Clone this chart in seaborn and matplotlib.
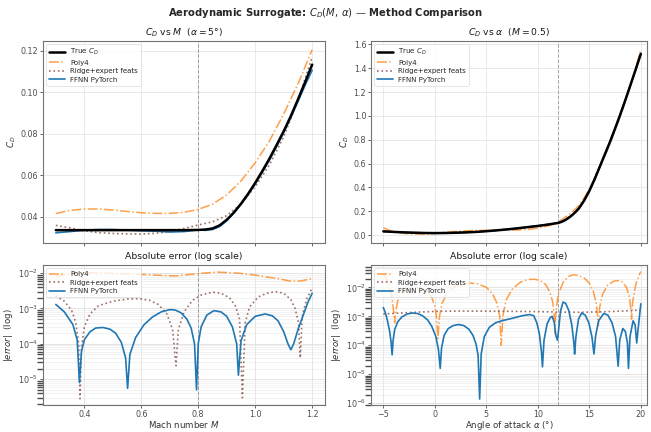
import numpy as np
import pandas as pd
import matplotlib
matplotlib.use("Agg")
import matplotlib.pyplot as plt
import seaborn as sns

# ---------------- data: C_D vs Mach (alpha = 5 deg) ----------------
mach = [0.30, 0.35, 0.40, 0.45, 0.50, 0.55, 0.60, 0.65, 0.70, 0.75, 0.80, 0.825,
        0.85, 0.875, 0.90, 0.925, 0.95, 0.975, 1.00, 1.025, 1.05, 1.075, 1.10,
        1.125, 1.15, 1.175, 1.20]
cd_true_m = [0.0335, 0.0335, 0.0335, 0.0335, 0.0335, 0.0335, 0.0335, 0.0335, 0.0335,
             0.0335, 0.0336, 0.0338, 0.0343, 0.0358, 0.0385, 0.0420, 0.0462, 0.0510,
             0.0563, 0.0620, 0.0680, 0.0745, 0.0812, 0.0885, 0.0965, 0.1048, 0.1133]
cd_ffnn_m = [0.0322, 0.0328, 0.0335, 0.0338, 0.0338, 0.0335, 0.0332, 0.0330, 0.0326,
             0.0328, 0.0336, 0.0334, 0.0338, 0.0352, 0.0380, 0.0417, 0.0460, 0.0506,
             0.0557, 0.0614, 0.0673, 0.0738, 0.0806, 0.0878, 0.0955, 0.1033, 0.1106]

mach_poly = [0.30, 0.35, 0.40, 0.45, 0.50, 0.55, 0.60, 0.65, 0.70, 0.75, 0.80, 0.85,
             0.90, 0.95, 1.00, 1.05, 1.10, 1.15, 1.20]
cd_poly_m = [0.0415, 0.0430, 0.0437, 0.0437, 0.0432, 0.0425, 0.0419, 0.0416, 0.0416,
             0.0421, 0.0435, 0.0460, 0.0505, 0.0572, 0.0660, 0.0765, 0.0895, 0.1040, 0.1205]
mach_ridge = [0.30, 0.35, 0.385, 0.45, 0.50, 0.55, 0.60, 0.65, 0.70, 0.75, 0.80, 0.85,
              0.90, 0.95, 1.00, 1.05, 1.10, 1.15, 1.20]
cd_ridge_m = [0.0358, 0.0346, 0.0335, 0.0323, 0.0319, 0.0317, 0.0316, 0.0320, 0.0328,
              0.0343, 0.0360, 0.0375, 0.0405, 0.0460, 0.0545, 0.0650, 0.0785, 0.0960, 0.1170]

# absolute errors vs Mach
m_err_poly = [0.30, 0.35, 0.40, 0.45, 0.50, 0.55, 0.60, 0.65, 0.72, 0.80, 0.865, 0.94,
              1.00, 1.03, 1.08, 1.12, 1.16, 1.20]
err_poly_m = [8.0e-3, 9.5e-3, 1.02e-2, 1.02e-2, 9.8e-3, 9.6e-3, 9.2e-3, 8.8e-3, 8.3e-3,
              9.7e-3, 1.07e-2, 1.0e-2, 8.8e-3, 8.0e-3, 7.0e-3, 6.0e-3, 6.0e-3, 7.0e-3]
m_err_ridge = [0.30, 0.33, 0.355, 0.37, 0.38, 0.385, 0.39, 0.40, 0.42, 0.45, 0.50, 0.55,
               0.59, 0.63, 0.66, 0.69, 0.71, 0.722, 0.73, 0.75, 0.78, 0.81, 0.85, 0.88,
               0.91, 0.93, 0.945, 0.955, 0.965, 0.98, 1.01, 1.04, 1.07, 1.10, 1.125,
               1.14, 1.152, 1.158, 1.165, 1.18, 1.20]
err_ridge_m = [2.3e-3, 1.6e-3, 9e-4, 4e-4, 1e-4, 2.8e-6, 8e-5, 3e-4, 7e-4, 1.2e-3, 1.6e-3,
               1.85e-3, 1.9e-3, 1.7e-3, 1.3e-3, 7e-4, 2.5e-4, 2.4e-5, 2.5e-4, 8e-4, 1.7e-3,
               2.4e-3, 2.9e-3, 2.7e-3, 2.0e-3, 1.2e-3, 5e-4, 3e-6, 4e-4, 1.1e-3, 2.1e-3,
               2.7e-3, 3.0e-3, 2.7e-3, 1.8e-3, 1.0e-3, 4e-4, 4e-5, 6e-4, 1.8e-3, 3.8e-3]
m_err_ffnn = [0.30, 0.33, 0.36, 0.375, 0.383, 0.39, 0.40, 0.42, 0.44, 0.465, 0.49, 0.51,
              0.53, 0.545, 0.552, 0.56, 0.58, 0.61, 0.64, 0.67, 0.70, 0.72, 0.74, 0.76,
              0.775, 0.787, 0.794, 0.80, 0.81, 0.83, 0.855, 0.88, 0.90, 0.92, 0.935,
              0.941, 0.95, 0.97, 1.00, 1.035, 1.06, 1.08, 1.10, 1.115, 1.125, 1.135,
              1.15, 1.17, 1.185, 1.20]
err_ffnn_m = [1.3e-3, 8e-4, 3.5e-4, 1.3e-4, 8e-6, 6e-5, 1.3e-4, 2.2e-4, 2.8e-4, 2.9e-4,
              2.6e-4, 2e-4, 1.1e-4, 4e-5, 5.5e-6, 5e-5, 1.5e-4, 3.5e-4, 5.8e-4, 8e-4,
              9.3e-4, 9e-4, 7.5e-4, 5e-4, 2.8e-4, 1e-4, 5e-6, 1e-4, 3e-4, 6.5e-4, 8.7e-4,
              8e-4, 6e-4, 3e-4, 1e-4, 1.3e-5, 1.2e-4, 3.5e-4, 6e-4, 7e-4, 6.2e-4, 4.5e-4,
              2.2e-4, 1e-4, 6.8e-5, 1e-4, 2.5e-4, 7e-4, 1.5e-3, 2.7e-3]

# ---------------- data: C_D vs alpha (M = 0.5) ----------------
alpha = [-5, -4, -3, -2, -1, 0, 1, 2, 3, 4, 5, 6, 7, 8, 9, 10, 11, 12, 12.25, 12.5,
         12.75, 13, 13.25, 13.5, 13.75, 14, 14.5, 15, 15.5, 16, 16.5, 17, 17.5, 18,
         18.5, 19, 19.5, 20]
cd_true_a = [0.031, 0.026, 0.022, 0.019, 0.017, 0.016, 0.017, 0.019, 0.022, 0.026,
             0.032, 0.039, 0.047, 0.056, 0.066, 0.076, 0.088, 0.102, 0.109, 0.118,
             0.130, 0.145, 0.161, 0.180, 0.201, 0.225, 0.290, 0.370, 0.465, 0.570,
             0.675, 0.780, 0.893, 1.010, 1.133, 1.260, 1.389, 1.520]
cd_ridge_a = [0.032, 0.027, 0.023, 0.020, 0.018, 0.017, 0.018, 0.020, 0.023, 0.027,
              0.033, 0.040, 0.048, 0.057, 0.067, 0.077, 0.089, 0.103, 0.110, 0.119,
              0.131, 0.146, 0.162, 0.181, 0.202, 0.226, 0.291, 0.371, 0.466, 0.571,
              0.676, 0.781, 0.894, 1.011, 1.134, 1.261, 1.390, 1.522]
cd_ffnn_a = [0.029, 0.026, 0.023, 0.020, 0.018, 0.016, 0.017, 0.019, 0.022, 0.026,
             0.032, 0.039, 0.048, 0.057, 0.067, 0.077, 0.088, 0.102, 0.111, 0.121,
             0.132, 0.146, 0.161, 0.180, 0.202, 0.226, 0.289, 0.371, 0.466, 0.571,
             0.676, 0.780, 0.893, 1.010, 1.133, 1.260, 1.389, 1.523]
alpha_poly = [-5, -4.5, -4, -3, -2, -1, 0, 0.3, 1, 2, 3, 3.5, 4, 5, 6, 6.45, 7, 8, 9,
              9.5, 10, 11, 11.65, 12, 12.5, 13, 13.5, 14, 14.5, 15, 15.5, 15.87, 16,
              16.5, 17, 17.5, 17.8, 18, 18.5, 19, 19.5, 20]
cd_poly_a = [0.061, 0.042, 0.027, 0.014, 0.009, 0.008, 0.0125, 0.016, 0.022, 0.030,
             0.035, 0.037, 0.038, 0.040, 0.0405, 0.043, 0.042, 0.042, 0.047, 0.052,
             0.058, 0.077, 0.093, 0.110, 0.140, 0.170, 0.207, 0.248, 0.313, 0.385,
             0.475, 0.550, 0.567, 0.662, 0.765, 0.878, 0.948, 0.995, 1.122, 1.259,
             1.400, 1.555]

# absolute errors vs alpha
a_err_poly = [-5.0, -4.7, -4.4, -4.15, -4.0, -3.9, -3.8, -3.6, -3.2, -2.6, -2.0, -1.4,
              -0.8, -0.3, 0.0, 0.15, 0.3, 0.45, 0.7, 1.2, 2.0, 2.8, 3.5, 4.2, 5.0, 5.6,
              6.0, 6.3, 6.45, 6.6, 6.9, 7.5, 8.3, 9.0, 9.6, 10.2, 10.8, 11.2, 11.45,
              11.6, 11.65, 11.75, 12.0, 12.5, 13.0, 13.4, 13.9, 14.5, 15.0, 15.4, 15.7,
              15.87, 16.0, 16.3, 16.8, 17.4, 17.8, 18.2, 18.6, 18.9, 19.05, 19.1, 19.2,
              19.5, 19.8, 20.0]
err_poly_a = [3.0e-2, 2.0e-2, 1.0e-2, 4e-3, 1.5e-3, 6e-4, 1.5e-3, 3.5e-3, 6.5e-3, 9e-3,
              1.0e-2, 9.5e-3, 7.5e-3, 4.5e-3, 2.2e-3, 1.0e-3, 1.7e-4, 1.0e-3, 2.8e-3,
              6.5e-3, 1.1e-2, 1.35e-2, 1.4e-2, 1.3e-2, 1.0e-2, 6e-3, 3e-3, 1e-3, 1e-4,
              1e-3, 3.5e-3, 8.5e-3, 1.5e-2, 1.85e-2, 1.9e-2, 1.75e-2, 1.2e-2, 6.5e-3,
              3e-3, 1e-3, 2.5e-4, 1.5e-3, 6e-3, 1.6e-2, 2.4e-2, 2.7e-2, 2.6e-2, 2.1e-2,
              1.4e-2, 7e-3, 2.5e-3, 4.7e-4, 2e-3, 6e-3, 1.2e-2, 1.65e-2, 1.7e-2, 1.55e-2,
              1.0e-2, 4.5e-3, 1.5e-3, 8e-4, 3e-3, 1.2e-2, 2.5e-2, 3.5e-2]
a_err_ridge = [-5, -2.5, 0, 2.5, 5, 7.5, 10, 12, 14, 16, 18, 20]
err_ridge_a = [1.2e-3, 1.35e-3, 1.48e-3, 1.52e-3, 1.5e-3, 1.48e-3, 1.45e-3, 1.4e-3,
               1.38e-3, 1.42e-3, 1.5e-3, 1.65e-3]
a_err_ffnn = [-5.0, -4.8, -4.6, -4.4, -4.25, -4.15, -4.05, -3.9, -3.6, -3.2, -2.7, -2.2,
              -1.7, -1.2, -0.7, -0.3, 0.1, 0.35, 0.52, 0.65, 0.9, 1.3, 1.8, 2.3, 2.8,
              3.3, 3.7, 4.0, 4.2, 4.35, 4.5, 4.8, 5.3, 5.9, 6.5, 7.5, 8.5, 9.2, 9.6,
              9.9, 10.15, 10.35, 10.45, 10.6, 10.9, 11.2, 11.4, 11.6, 11.75, 11.9, 12.0,
              12.2, 12.45, 12.7, 13.0, 13.3, 13.5, 13.57, 13.7, 13.95, 14.25, 14.6,
              14.95, 15.25, 15.45, 15.6, 15.9, 16.4, 16.8, 17.2, 17.55, 17.8, 17.95,
              18.25, 18.5, 18.7, 18.8, 18.95, 19.25, 19.45, 19.6, 19.75, 20.0]
err_ffnn_a = [2.0e-3, 1.3e-3, 7e-4, 3.2e-4, 1.3e-4, 4.7e-5, 1.5e-4, 3.5e-4, 6.5e-4,
              9.5e-4, 1.2e-3, 1.3e-3, 1.25e-3, 1.05e-3, 7.5e-4, 4.5e-4, 2e-4, 7e-5,
              1.6e-5, 8e-5, 2.2e-4, 3.8e-4, 4.8e-4, 5.2e-4, 4.8e-4, 3.6e-4, 2.2e-4,
              1.1e-4, 4.5e-5, 1.4e-6, 5e-5, 2e-4, 4.2e-4, 6e-4, 7e-4, 8.5e-4, 1.05e-3,
              1.15e-3, 1.05e-3, 6e-4, 2.5e-4, 6e-5, 1.8e-5, 1.5e-4, 5.5e-4, 9e-4, 1.0e-3,
              6e-4, 2.2e-4, 1.5e-4, 3e-4, 1.5e-3, 3.1e-3, 2.8e-3, 1.6e-3, 5e-4, 1.2e-4,
              5e-5, 2e-4, 8e-4, 1.3e-3, 1.1e-3, 6e-4, 2e-4, 5e-5, 2e-4, 7e-4, 1.25e-3,
              1.1e-3, 6e-4, 2e-4, 1.9e-5, 1.5e-4, 3.8e-4, 3e-4, 1.2e-4, 1.6e-5, 2e-4,
              7e-4, 5e-4, 1.2e-4, 4e-4, 2.7e-3]

# ---------------- styling ----------------
sns.set_theme(style="whitegrid")
plt.rcParams.update({
    "font.family": ["DejaVu Sans"],
    "axes.edgecolor": "0.45",
    "axes.linewidth": 0.8,
    "grid.color": "0.9",
    "grid.linewidth": 0.6,
    "xtick.bottom": True, "ytick.left": True,
    "xtick.major.size": 2.2, "ytick.major.size": 2.2,
    "xtick.major.width": 0.6, "ytick.major.width": 0.6,
    "xtick.color": "0.3", "ytick.color": "0.3",
    "xtick.labelsize": 5.8, "ytick.labelsize": 5.8,
    "axes.labelsize": 6.2, "axes.titlesize": 6.7,
    "axes.labelcolor": "0.2", "axes.titlecolor": "0.1",
    "legend.fontsize": 5,
})

C_TRUE = "black"
C_POLY = "#ff7f0e"
C_RIDGE = "#8c564b"
C_FFNN = "#1f77b4"

fig = plt.figure(figsize=(6.51, 4.32), dpi=100)
W, H = 651, 432
def rect(x0, x1, y0, y1):
    return [x0 / W, 1 - y1 / H, (x1 - x0) / W, (y1 - y0) / H]

ax_tl = fig.add_axes(rect(43, 325, 41, 243))
ax_tr = fig.add_axes(rect(371, 647, 41, 243))
ax_bl = fig.add_axes(rect(43, 325, 265, 405))
ax_br = fig.add_axes(rect(371, 647, 265, 405))

def line(ax, x, y, **kw):
    sns.lineplot(x=x, y=y, ax=ax, estimator=None, sort=False, **kw)

# top-left
line(ax_tl, mach, cd_true_m, color=C_TRUE, lw=1.8, label="True $C_D$", zorder=5)
line(ax_tl, mach_poly, cd_poly_m, color=C_POLY, lw=1.1, alpha=0.75, label="Poly4",
     linestyle="-.", zorder=3)
line(ax_tl, mach_ridge, cd_ridge_m, color=C_RIDGE, lw=1.2, alpha=0.85,
     label="Ridge+expert feats", linestyle=":", zorder=3)
line(ax_tl, mach, cd_ffnn_m, color=C_FFNN, lw=1.2, label="FFNN PyTorch", zorder=4)
ax_tl.set_title(r"$C_D$ vs $M$  ($\alpha=5°$)", pad=4)
ax_tl.set_ylabel("$C_D$")
ax_tl.set_xlabel("")

# top-right
line(ax_tr, alpha, cd_true_a, color=C_TRUE, lw=1.8, label="True $C_D$", zorder=5)
line(ax_tr, alpha_poly, cd_poly_a, color=C_POLY, lw=1.1, alpha=0.75, label="Poly4",
     linestyle="-.", zorder=3)
line(ax_tr, alpha, cd_ridge_a, color=C_RIDGE, lw=1.2, alpha=0.85,
     label="Ridge+expert feats", linestyle=":", zorder=3)
line(ax_tr, alpha, cd_ffnn_a, color=C_FFNN, lw=1.2, label="FFNN PyTorch", zorder=4)
ax_tr.set_title(r"$C_D$ vs $\alpha$  ($M=0.5$)", pad=4)
ax_tr.set_ylabel("$C_D$")
ax_tr.set_xlabel("")

# bottom-left
line(ax_bl, m_err_poly, err_poly_m, color=C_POLY, lw=1.1, alpha=0.75, label="Poly4",
     linestyle="-.")
line(ax_bl, m_err_ridge, err_ridge_m, color=C_RIDGE, lw=1.2, alpha=0.85,
     label="Ridge+expert feats", linestyle=":")
line(ax_bl, m_err_ffnn, err_ffnn_m, color=C_FFNN, lw=1.2, label="FFNN PyTorch")
ax_bl.set_yscale("log")
ax_bl.set_title("Absolute error (log scale)", pad=4)
ax_bl.set_ylabel(r"$|error|$  (log)")
ax_bl.set_xlabel("Mach number $M$", labelpad=0.5)

# bottom-right
line(ax_br, a_err_poly, err_poly_a, color=C_POLY, lw=1.1, alpha=0.75, label="Poly4",
     linestyle="-.")
line(ax_br, a_err_ridge, err_ridge_a, color=C_RIDGE, lw=1.2, alpha=0.85,
     label="Ridge+expert feats", linestyle=":")
line(ax_br, a_err_ffnn, err_ffnn_a, color=C_FFNN, lw=1.2, label="FFNN PyTorch")
ax_br.set_yscale("log")
ax_br.set_title("Absolute error (log scale)", pad=4)
ax_br.set_ylabel(r"$|error|$  (log)")
ax_br.set_xlabel(r"Angle of attack $\alpha$ (°)", labelpad=0.5)

# limits, reference lines, grids
ax_tl.set_xlim(0.255, 1.245); ax_bl.set_xlim(0.255, 1.245)
ax_tr.set_xlim(-6.2, 20.6); ax_br.set_xlim(-6.2, 20.6)
ax_tl.set_ylim(0.0273, 0.1247)
ax_tr.set_ylim(-0.067, 1.628)
ax_bl.set_ylim(10 ** -5.73, 10 ** -1.77)
ax_br.set_ylim(10 ** -6.06, 10 ** -1.23)
ax_tl.set_yticks([0.04, 0.06, 0.08, 0.10, 0.12])
ax_tr.set_yticks([0.0, 0.2, 0.4, 0.6, 0.8, 1.0, 1.2, 1.4, 1.6])
for ax in (ax_tl, ax_bl):
    ax.axvline(0.8, color="0.55", lw=0.7, ls="--", alpha=0.8, zorder=1)
    ax.set_xticks([0.4, 0.6, 0.8, 1.0, 1.2])
for ax in (ax_tr, ax_br):
    ax.axvline(12, color="0.55", lw=0.7, ls="--", alpha=0.8, zorder=1)
    ax.set_xticks([-5, 0, 5, 10, 15, 20])
for ax in (ax_bl, ax_br):
    ax.grid(True, which="minor", axis="y", color="0.93", lw=0.5)
    ax.grid(True, which="major", color="0.88", lw=0.6)
for ax in (ax_tl, ax_tr):
    ax.tick_params(labelbottom=False)
for ax in (ax_tl, ax_tr, ax_bl, ax_br):
    ax.tick_params(pad=1.2)
    ax.yaxis.labelpad = 2
    leg = ax.legend(loc="upper left", frameon=True, handlelength=2.2,
                    borderpad=0.4, labelspacing=0.35, fancybox=True)
    leg.get_frame().set_edgecolor("0.85")
    leg.get_frame().set_linewidth(0.6)

fig.suptitle(r"Aerodynamic Surrogate: $C_D(M,\,\alpha)$ — Method Comparison",
             fontsize=7.2, fontweight="bold", y=0.985)

fig.savefig("out.png", dpi=100)
